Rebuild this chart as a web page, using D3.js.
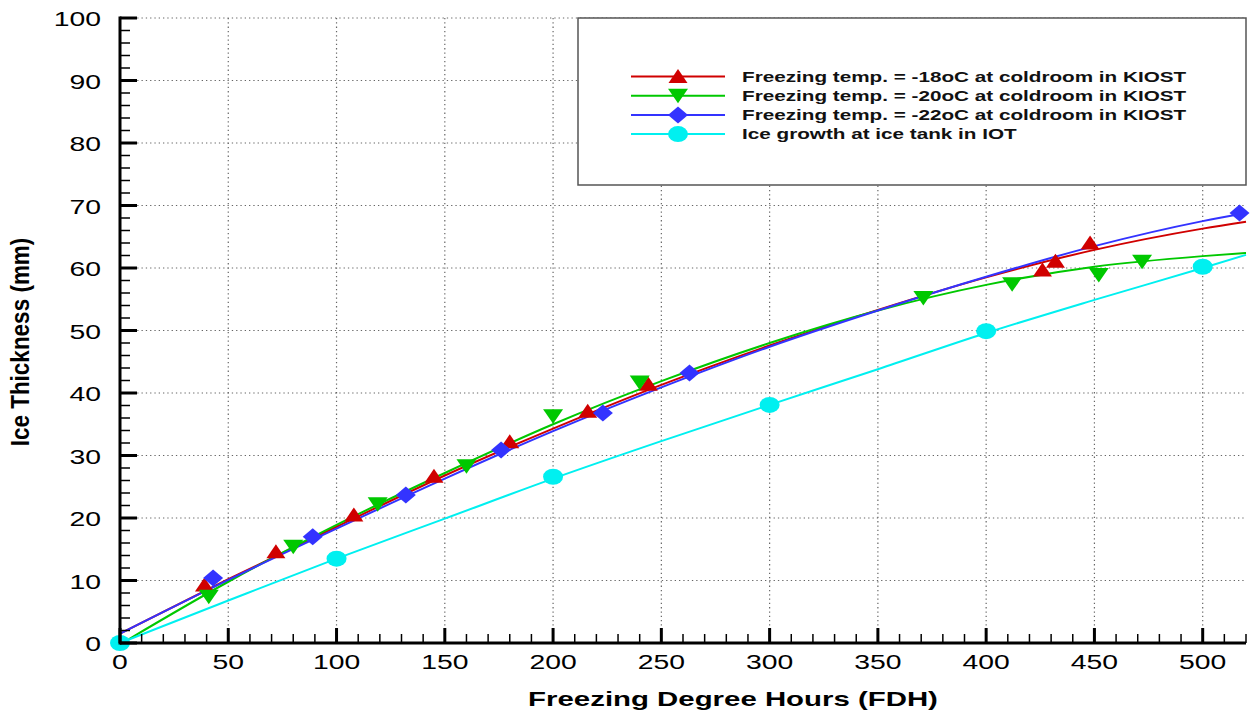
<!DOCTYPE html>
<html>
<head>
<meta charset="utf-8">
<script src="https://cdn.jsdelivr.net/npm/d3@7"></script>
<style>
  html, body { margin: 0; padding: 0; background: #fff; }
  svg { display: block; }
</style>
</head>
<body>
<svg id="chart" width="1251" height="716"></svg>
<script>
// Measured data: freezing degree hours (FDH) vs ice thickness (mm)
const fdh18 = [39, 72, 108, 145, 180, 216, 244, 426, 432, 448];
const ice18 = [9.3, 14.6, 20.5, 26.7, 32.2, 37.1, 41.4, 59.7, 61.1, 64.0];

const fdh20 = [41, 80, 119, 160, 200, 240, 371, 412, 452, 472];
const ice20 = [7.4, 15.4, 22.2, 28.3, 36.3, 41.7, 55.2, 57.4, 58.9, 61.0];

const fdh22 = [43, 89, 132, 176, 223, 263, 517];
const ice22 = [10.4, 17.0, 23.7, 30.9, 36.8, 43.2, 68.8];

const fdhIOT = [0, 100, 200, 300, 400, 500];
const iceIOT = [0, 13.5, 26.6, 38.1, 49.9, 60.2];

// Fitted trend curves, sampled along the FDH axis
const fitX18 = [0, 50, 100, 150, 200, 250, 300, 350, 400, 450, 500, 520];
const fitY18 = [1.5, 10.2, 18.6, 26.8, 34.3, 41.3, 47.6, 53.3, 58.5, 62.9, 66.3, 67.4];
const fitX20 = [4, 50, 100, 150, 200, 250, 300, 350, 400, 450, 500, 520];
const fitY20 = [0.6, 9.8, 18.9, 27.2, 35.0, 41.9, 48.0, 53.2, 57.3, 60.2, 61.9, 62.4];
const fitX22 = [0, 50, 100, 150, 200, 250, 300, 350, 400, 450, 500, 520];
const fitY22 = [1.5, 10.1, 18.3, 26.3, 33.9, 40.9, 47.4, 53.2, 58.6, 63.5, 67.5, 68.8];
const fitXIOT = [0, 50, 100, 150, 200, 250, 300, 350, 400, 450, 500, 520];
const fitYIOT = [0, 6.8, 13.5, 19.9, 26.3, 32.3, 38.1, 43.8, 49.6, 54.9, 60.0, 62.1];

const xTicks = [0, 50, 100, 150, 200, 250, 300, 350, 400, 450, 500];
const yTicks = [0, 10, 20, 30, 40, 50, 60, 70, 80, 90, 100];

const legendLabels = [
  "Freezing temp. = -18oC at coldroom in KIOST",
  "Freezing temp. = -20oC at coldroom in KIOST",
  "Freezing temp. = -22oC at coldroom in KIOST",
  "Ice growth at ice tank in IOT"
];

const series = [
  { px: fdh18, py: ice18, fx: fitX18, fy: fitY18, color: "#d00000", shape: "up" },
  { px: fdh20, py: ice20, fx: fitX20, fy: fitY20, color: "#00c800", shape: "down" },
  { px: fdh22, py: ice22, fx: fitX22, fy: fitY22, color: "#3333ff", shape: "diamond" },
  { px: fdhIOT, py: iceIOT, fx: fitXIOT, fy: fitYIOT, color: "#00f0f0", shape: "circle" }
];

const FONT = "Liberation Sans, Arial, Helvetica, sans-serif";
const WIDE = 1.35;   // horizontal stretch of the lettering

const svg = d3.select("#chart");
const plotL = 120, plotR = 1246, plotT = 18, plotB = 643;

const x = d3.scaleLinear().domain([0, 520]).range([plotL, plotR]);
const y = d3.scaleLinear().domain([0, 100]).range([plotB, plotT]);

// Dotted grid
const grid = svg.append("g").attr("stroke", "#666").attr("stroke-width", 1.2)
  .attr("stroke-dasharray", "1.3,3");
grid.selectAll("line.gx").data(xTicks.filter(d => d > 0)).join("line")
  .attr("x1", d => x(d)).attr("x2", d => x(d)).attr("y1", plotT).attr("y2", plotB);
grid.selectAll("line.gy").data(yTicks.filter(d => d > 0)).join("line")
  .attr("x1", plotL).attr("x2", plotR).attr("y1", d => y(d)).attr("y2", d => y(d));

// Legend box (drawn over the grid)
const lg = svg.append("g");
lg.append("rect").attr("x", 578).attr("y", 18).attr("width", 668).attr("height", 167)
  .attr("fill", "#fff").attr("stroke", "#555").attr("stroke-width", 1.5);

// Marker shapes
function marker(g, shape, color) {
  if (shape === "up") {
    g.append("path").attr("d", "M0,-7.5 L9.5,6.5 L-9.5,6.5 Z").attr("fill", color);
  } else if (shape === "down") {
    g.append("path").attr("d", "M0,7.5 L10,-7 L-10,-7 Z").attr("fill", color);
  } else if (shape === "diamond") {
    g.append("path").attr("d", "M0,-8.5 L10,0 L0,8.5 L-10,0 Z").attr("fill", color);
  } else {
    g.append("ellipse").attr("rx", 10).attr("ry", 8).attr("fill", color);
  }
}

const line = d3.line().x(d => x(d[0])).y(d => y(d[1])).curve(d3.curveMonotoneX);

series.forEach(s => {
  svg.append("path")
    .datum(s.fx.map((v, i) => [v, s.fy[i]]))
    .attr("d", line)
    .attr("fill", "none").attr("stroke", s.color).attr("stroke-width", 2);
});
series.forEach(s => {
  s.px.forEach((v, i) => {
    const g = svg.append("g").attr("transform", `translate(${x(v)},${y(s.py[i])})`);
    marker(g, s.shape, s.color);
  });
});

// Legend entries
legendLabels.forEach((t, i) => {
  const cy = 76.5 + i * 19.2;
  const s = series[i];
  lg.append("line").attr("x1", 631).attr("x2", 725).attr("y1", cy).attr("y2", cy)
    .attr("stroke", s.color).attr("stroke-width", 2);
  const g = lg.append("g").attr("transform", `translate(678,${cy})`);
  marker(g, s.shape, s.color);
  lg.append("text").attr("transform", `translate(742,${cy + 5.3}) scale(1.38,1)`)
    .attr("font-family", FONT)
    .attr("font-weight", "bold").attr("font-size", 15)
    .attr("fill", "#111").text(t);
});

// Axes with inward ticks
const axes = svg.append("g").attr("stroke", "#000");
const xMinor = d3.range(10, 521, 10).filter(d => d % 50 !== 0);
const yMinor = d3.range(2, 100, 2).filter(d => d % 10 !== 0);
axes.selectAll("line.xm").data(xMinor).join("line")
  .attr("x1", d => x(d)).attr("x2", d => x(d)).attr("y1", plotB).attr("y2", plotB - 9)
  .attr("stroke-width", 1.5);
axes.selectAll("line.xM").data(xTicks).join("line")
  .attr("x1", d => x(d)).attr("x2", d => x(d)).attr("y1", plotB).attr("y2", plotB - 15)
  .attr("stroke-width", 3);
axes.selectAll("line.ym").data(yMinor).join("line")
  .attr("x1", plotL).attr("x2", plotL + 10).attr("y1", d => y(d)).attr("y2", d => y(d))
  .attr("stroke-width", 1.5);
axes.selectAll("line.yM").data(yTicks).join("line")
  .attr("x1", plotL).attr("x2", plotL + 17).attr("y1", d => y(d)).attr("y2", d => y(d))
  .attr("stroke-width", 3);
axes.append("line").attr("x1", plotL).attr("x2", plotR).attr("y1", plotB).attr("y2", plotB)
  .attr("stroke-width", 3);
axes.append("line").attr("x1", plotL).attr("x2", plotL).attr("y1", plotT - 1.5).attr("y2", plotB + 1.5)
  .attr("stroke-width", 3);

// Tick labels
svg.append("g").selectAll("text").data(xTicks).join("text")
  .attr("transform", d => `translate(${x(d)},669) scale(${WIDE},1)`)
  .attr("text-anchor", "middle")
  .attr("font-family", FONT)
  .attr("font-size", 21).attr("fill", "#000").text(d => d);
svg.append("g").selectAll("text").data(yTicks).join("text")
  .attr("transform", d => `translate(101,${y(d) + 8}) scale(${WIDE},1)`)
  .attr("text-anchor", "end")
  .attr("font-family", FONT)
  .attr("font-size", 21).attr("fill", "#000").text(d => d);

// Axis titles
svg.append("text").attr("transform", `translate(733,706) scale(1.4,1)`)
  .attr("text-anchor", "middle")
  .attr("font-family", FONT)
  .attr("font-weight", "bold").attr("font-size", 21)
  .attr("fill", "#000").text("Freezing Degree Hours (FDH)");
svg.append("text").attr("transform", "translate(29,342) scale(1.15,1) rotate(-90)")
  .attr("text-anchor", "middle")
  .attr("font-family", FONT)
  .attr("font-weight", "bold").attr("font-size", 22.5)
  .attr("fill", "#000").text("Ice Thickness (mm)");
</script>
</body>
</html>
